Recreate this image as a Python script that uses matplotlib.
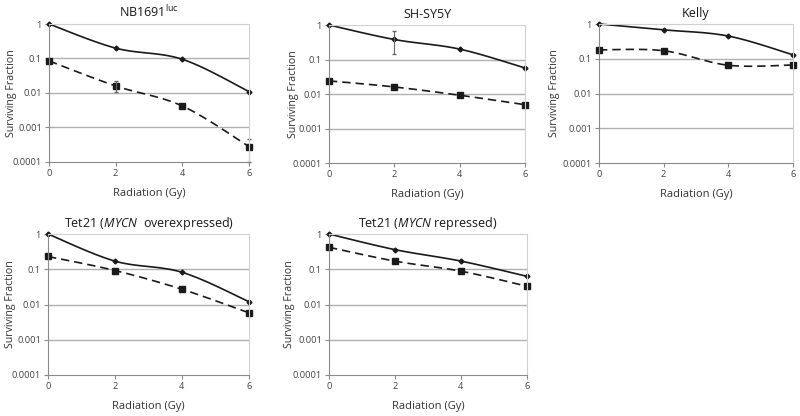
import numpy as np
import matplotlib
matplotlib.use('Agg')
import matplotlib.pyplot as plt

plt.rcParams['font.family'] = ['Open Sans', 'DejaVu Sans']
plt.rcParams['mathtext.fontset'] = 'custom'
plt.rcParams['mathtext.rm'] = 'Open Sans'
plt.rcParams['mathtext.it'] = 'Open Sans:italic'

dose = [0, 2, 4, 6]

titles = [r'NB1691$^{\mathrm{luc}}$', 'SH-SY5Y', 'Kelly',
          r'Tet21 ($\mathit{MYCN}$  overexpressed)', r'Tet21 ($\mathit{MYCN}$ repressed)']

# solid line (control) and dashed line (treated)
solid = [[1, 0.2, 0.095, 0.011],
         [1, 0.38, 0.2, 0.057],
         [1, 0.68, 0.45, 0.13],
         [1, 0.17, 0.082, 0.012],
         [1, 0.36, 0.17, 0.063]]
dashed = [[0.085, 0.016, 0.0042, 0.00028],
          [0.024, 0.016, 0.0092, 0.0049],
          [0.18, 0.17, 0.065, 0.066],
          [0.23, 0.092, 0.027, 0.0058],
          [0.42, 0.17, 0.088, 0.033]]
# error bars (low, high) where visible: (panel, series, index)
errs = {(0, 'dashed', 1): (0.011, 0.022),
        (0, 'dashed', 3): (0.0001, 0.00045),
        (1, 'solid', 1): (0.14, 0.65)}

# axes rectangles in pixels: x0, x6, y_top(1), y_bottom(1e-4)
boxes = [(49, 249, 24, 162),
         (329, 525, 25, 163),
         (599, 793, 24, 163),
         (48, 249, 234, 375),
         (329, 527, 234, 375)]
ylab_x = [17, 299, 560, 16, 295]

W, H = 800, 416
fig = plt.figure(figsize=(W / 100, H / 100), dpi=100)


def smooth(x, y, n=30):
    # Catmull-Rom through the points in (x, log y) space, like Excel smoothed lines
    x = np.asarray(x, float)
    ly = np.log10(y)
    px = np.concatenate([[x[0]], x, [x[-1]]])
    py = np.concatenate([[ly[0]], ly, [ly[-1]]])
    xs, ys = [], []
    t = np.linspace(0, 1, n)
    for i in range(1, len(px) - 2):
        for p, out in ((px, xs), (py, ys)):
            p0, p1, p2, p3 = p[i - 1], p[i], p[i + 1], p[i + 2]
            out.extend(0.5 * (2 * p1 + (-p0 + p2) * t + (2 * p0 - 5 * p1 + 4 * p2 - p3) * t ** 2
                              + (-p0 + 3 * p1 - 3 * p2 + p3) * t ** 3))
    return np.array(xs), 10 ** np.array(ys)


lc = '#1a1a1a'
for k, (x0, x6, yt, yb) in enumerate(boxes):
    ax = fig.add_axes([x0 / W, 1 - yb / H, (x6 - x0) / W, (yb - yt) / H])
    ax.set_yscale('log')
    ax.set_xlim(0, 6)
    ax.set_ylim(1e-4, 1)
    ax.set_yticks([1e-4, 1e-3, 1e-2, 1e-1, 1])
    ax.set_yticklabels(['0.0001', '0.001', '0.01', '0.1', '1'])
    ax.minorticks_off()
    ax.set_xticks(dose)
    for lv in [1e-3, 1e-2, 1e-1]:
        ax.axhline(lv, color='#b0b0b0', lw=1, zorder=0)
    for s in ['top', 'right']:
        ax.spines[s].set_color('#d0d0d0')
    for s in ['left', 'bottom']:
        ax.spines[s].set_color('#8a8a8a')
    ax.tick_params(axis='both', labelsize=6.7, colors='#8a8a8a', labelcolor='#444444',
                   length=3, width=0.8, pad=2)

    sx, sy = smooth(dose, solid[k])
    ax.plot(sx, sy, '-', color=lc, lw=1.2, clip_on=False)
    ax.plot(dose, solid[k], 'D', color=lc, ms=2.5, clip_on=False)
    dx, dy = smooth(dose, dashed[k])
    ax.plot(dx, dy, '--', color=lc, lw=1.2, dashes=(5, 3), clip_on=False)
    ax.plot(dose, dashed[k], 's', color=lc, ms=4.5, clip_on=False)

    for (p, ser, i), (lo, hi) in errs.items():
        if p != k:
            continue
        v = solid[k][i] if ser == 'solid' else dashed[k][i]
        ax.errorbar([dose[i]], [v], yerr=[[v - lo], [hi - v]], fmt='none',
                    ecolor='#666666', elinewidth=0.8, capsize=1.5, clip_on=False)

    ax.set_title(titles[k], fontsize=9, color='#1a1a1a', pad=5)
    ax.set_xlabel('Radiation (Gy)', fontsize=8, color='#333333', labelpad=7)
    ax.set_ylabel('Surviving Fraction', fontsize=7.7, color='#333333')
    ax.yaxis.set_label_coords(ylab_x[k] / W, 1 - (yt + yb) / 2 / H, transform=fig.transFigure)

fig.savefig('out.png', dpi=100, facecolor='white')
